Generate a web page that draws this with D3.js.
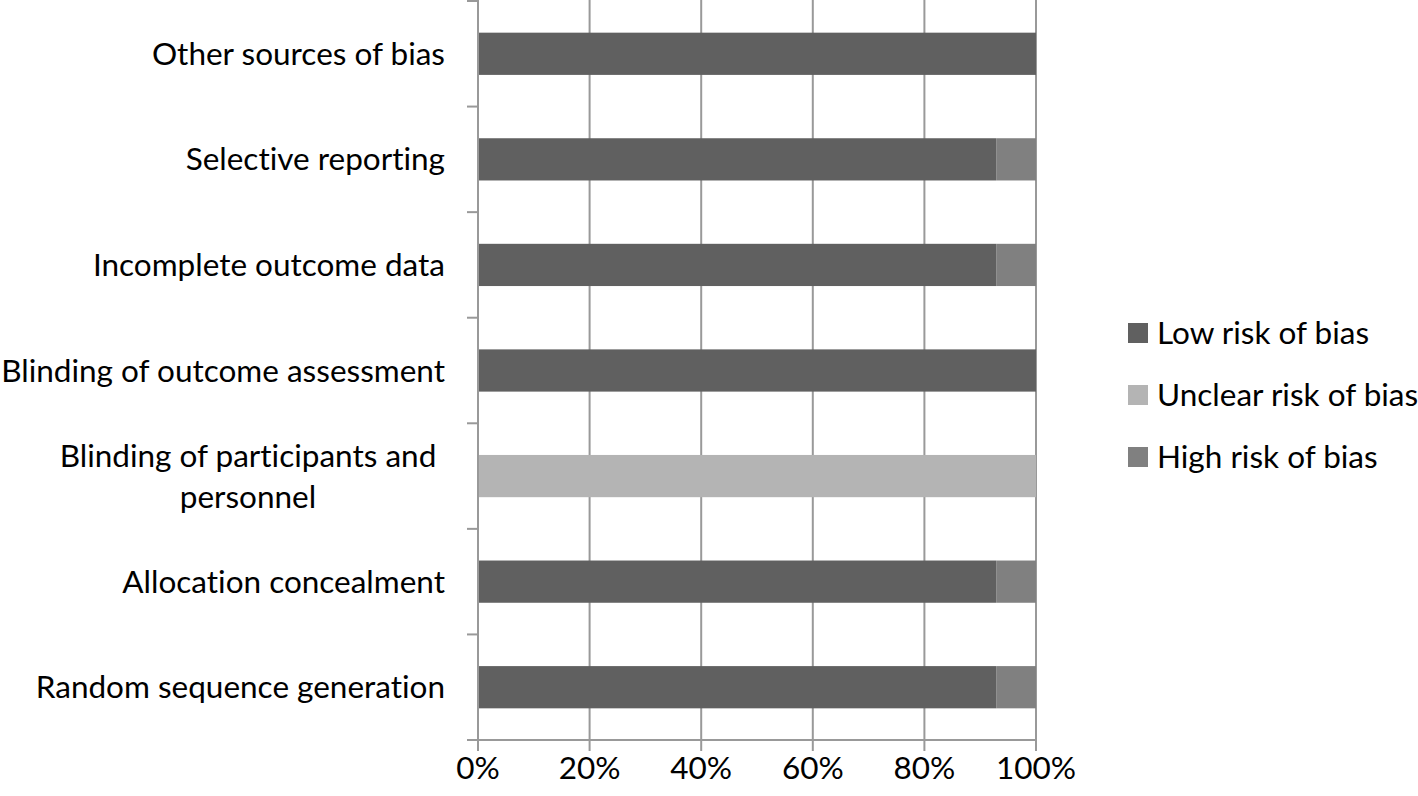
<!DOCTYPE html>
<html>
<head>
	<meta charset="utf-8">
	<title>Risk of bias</title>
	<style>
		html, body { margin:0; padding:0; background:#fff; }
		body { font-family: Lato, "Open Sans", sans-serif; }
		.lbl { font-size: 31.5px; fill: #000; font-variant-ligatures: none; font-feature-settings: "liga" 0; }
		.grid { stroke: #999; stroke-width: 2px; }
		.ax { stroke: #999; stroke-width: 2px; fill: none; }
	</style>
	<script src="https://d3js.org/d3.v7.min.js"></script>
</head>
<body>
<svg id="chart"></svg>
<script>

	//data (bottom to top as in picture)
	var categories = ["Random sequence generation", "Allocation concealment", "Blinding of participants and personnel",
		"Blinding of outcome assessment", "Incomplete outcome data", "Selective reporting", "Other sources of bias"];
	var lowRisk     = [92.86, 92.86, 0,   100, 92.86, 92.86, 100];
	var unclearRisk = [0,     0,     100, 0,   0,     0,     0];
	var highRisk    = [7.14,  7.14,  0,   0,   7.14,  7.14,  0];
	var seriesNames = ["Low risk of bias", "Unclear risk of bias", "High risk of bias"];
	var seriesColors = ["#606060", "#b4b4b4", "#808080"];
	var xTicks = [0, 20, 40, 60, 80, 100];

	var W = 1418, H = 796;
	var svg = d3.select("#chart").attr("width", W).attr("height", H);

	var x = d3.scaleLinear().domain([0,100]).range([478, 1036]);
	var y = d3.scaleBand().domain(categories.slice().reverse()).range([1, 740]).paddingInner(0.6).paddingOuter(0.3);
	var yb = d3.scaleBand().domain(categories.slice().reverse()).range([1, 740]);

	//gridlines
	svg.append("g").selectAll("line").data(xTicks.slice(1)).enter().append("line")
		.attr("class","grid")
		.attr("x1", function(d){ return x(d); }).attr("x2", function(d){ return x(d); })
		.attr("y1", 0).attr("y2", 740);

	//stacked bars
	var table = categories.map(function(c,i){ return {cat:c, low:lowRisk[i], unclear:unclearRisk[i], high:highRisk[i]}; });
	var stack = d3.stack().keys(["low","unclear","high"])(table);
	svg.append("g").selectAll("g").data(stack).enter().append("g")
		.attr("fill", function(d,i){ return seriesColors[i]; })
		.selectAll("rect").data(function(d){ return d; }).enter().append("rect")
		.attr("x", function(d){ return x(d[0]); })
		.attr("width", function(d){ return x(d[1]) - x(d[0]); })
		.attr("y", function(d){ return y(d.data.cat); })
		.attr("height", y.bandwidth());

	//y axis line and ticks
	svg.append("line").attr("class","ax").attr("x1", 478).attr("x2", 478).attr("y1", 0).attr("y2", 740);
	var bounds = categories.map(function(c){ return yb(c); });
	svg.append("g").selectAll("line").data(bounds).enter().append("line").attr("class","ax")
		.attr("x1", 467).attr("x2", 478)
		.attr("y1", function(d){ return d; }).attr("y2", function(d){ return d; });

	//x axis
	svg.append("line").attr("class","ax").attr("x1", 467).attr("x2", 1036).attr("y1", 740).attr("y2", 740);
	svg.append("g").selectAll("line").data(xTicks).enter().append("line").attr("class","ax")
		.attr("x1", function(d){ return x(d); }).attr("x2", function(d){ return x(d); })
		.attr("y1", 740).attr("y2", 751);
	svg.append("g").selectAll("text").data(xTicks).enter().append("text").attr("class","lbl")
		.attr("x", function(d){ return x(d); }).attr("y", 779)
		.attr("text-anchor","middle")
		.text(function(d){ return d + "%"; });

	//category labels
	categories.forEach(function(c){
		var cy = y(c) + y.bandwidth()/2;
		if (c === "Blinding of participants and personnel") {
			var t = svg.append("text").attr("class","lbl").attr("text-anchor","middle");
			t.append("tspan").attr("x", 248).attr("y", cy - 9).text("Blinding of participants and");
			t.append("tspan").attr("x", 248).attr("y", cy + 32).text("personnel");
		} else {
			svg.append("text").attr("class","lbl").attr("x", 445).attr("y", cy + 11)
				.attr("text-anchor","end").text(c);
		}
	});

	//legend
	var lg = svg.append("g").selectAll("g").data(seriesNames).enter().append("g")
		.attr("transform", function(d,i){ return "translate(1128," + (323 + i*62) + ")"; });
	lg.append("rect").attr("width", 20).attr("height", 20).attr("fill", function(d,i){ return seriesColors[i]; });
	lg.append("text").attr("class","lbl").attr("x", 29).attr("y", 21).text(function(d){ return d; });

</script>
</body>
</html>
